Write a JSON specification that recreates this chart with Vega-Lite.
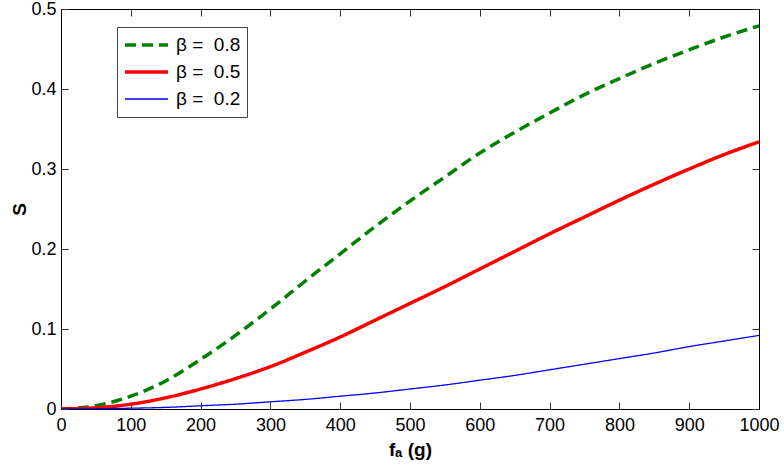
{
  "$schema": "https://vega.github.io/schema/vega-lite/v6.json",
  "autosize": "none",
  "width": 698,
  "height": 400,
  "padding": {"left": 61, "top": 9, "right": 25, "bottom": 58},
  "background": "white",
  "config": {
    "font": "Liberation Sans",
    "view": {"stroke": "black", "strokeWidth": 1},
    "axis": {
      "grid": false,
      "labelFlush": false,
      "domainColor": "black",
      "tickColor": "#333",
      "labelColor": "black",
      "labelFontSize": 18,
      "titleColor": "black",
      "titleFontSize": 19,
      "titleFontWeight": "bold"
    }
  },
  "data": {
    "values": [
      {"f": 0, "b": "β = \u00a00.8", "S": 0},
      {"f": 50, "b": "β = \u00a00.8", "S": 0.004},
      {"f": 100, "b": "β = \u00a00.8", "S": 0.016},
      {"f": 150, "b": "β = \u00a00.8", "S": 0.035},
      {"f": 200, "b": "β = \u00a00.8", "S": 0.062},
      {"f": 250, "b": "β = \u00a00.8", "S": 0.092},
      {"f": 300, "b": "β = \u00a00.8", "S": 0.125},
      {"f": 350, "b": "β = \u00a00.8", "S": 0.160},
      {"f": 400, "b": "β = \u00a00.8", "S": 0.194},
      {"f": 450, "b": "β = \u00a00.8", "S": 0.228},
      {"f": 500, "b": "β = \u00a00.8", "S": 0.260},
      {"f": 550, "b": "β = \u00a00.8", "S": 0.290},
      {"f": 600, "b": "β = \u00a00.8", "S": 0.320},
      {"f": 650, "b": "β = \u00a00.8", "S": 0.346},
      {"f": 700, "b": "β = \u00a00.8", "S": 0.370},
      {"f": 750, "b": "β = \u00a00.8", "S": 0.393},
      {"f": 800, "b": "β = \u00a00.8", "S": 0.413},
      {"f": 850, "b": "β = \u00a00.8", "S": 0.432},
      {"f": 900, "b": "β = \u00a00.8", "S": 0.449},
      {"f": 950, "b": "β = \u00a00.8", "S": 0.465},
      {"f": 1000, "b": "β = \u00a00.8", "S": 0.479},
      {"f": 0, "b": "β = \u00a00.5", "S": 0},
      {"f": 50, "b": "β = \u00a00.5", "S": 0.0015},
      {"f": 100, "b": "β = \u00a00.5", "S": 0.006},
      {"f": 150, "b": "β = \u00a00.5", "S": 0.014},
      {"f": 200, "b": "β = \u00a00.5", "S": 0.025},
      {"f": 250, "b": "β = \u00a00.5", "S": 0.038},
      {"f": 300, "b": "β = \u00a00.5", "S": 0.053},
      {"f": 350, "b": "β = \u00a00.5", "S": 0.071},
      {"f": 400, "b": "β = \u00a00.5", "S": 0.090},
      {"f": 450, "b": "β = \u00a00.5", "S": 0.111},
      {"f": 500, "b": "β = \u00a00.5", "S": 0.132},
      {"f": 550, "b": "β = \u00a00.5", "S": 0.153},
      {"f": 600, "b": "β = \u00a00.5", "S": 0.175},
      {"f": 650, "b": "β = \u00a00.5", "S": 0.197},
      {"f": 700, "b": "β = \u00a00.5", "S": 0.219},
      {"f": 750, "b": "β = \u00a00.5", "S": 0.240},
      {"f": 800, "b": "β = \u00a00.5", "S": 0.261},
      {"f": 850, "b": "β = \u00a00.5", "S": 0.281},
      {"f": 900, "b": "β = \u00a00.5", "S": 0.300},
      {"f": 950, "b": "β = \u00a00.5", "S": 0.318},
      {"f": 1000, "b": "β = \u00a00.5", "S": 0.334},
      {"f": 0, "b": "β = \u00a00.2", "S": 0},
      {"f": 50, "b": "β = \u00a00.2", "S": 0.0003},
      {"f": 100, "b": "β = \u00a00.2", "S": 0.001},
      {"f": 150, "b": "β = \u00a00.2", "S": 0.002},
      {"f": 200, "b": "β = \u00a00.2", "S": 0.004},
      {"f": 250, "b": "β = \u00a00.2", "S": 0.006},
      {"f": 300, "b": "β = \u00a00.2", "S": 0.009},
      {"f": 350, "b": "β = \u00a00.2", "S": 0.012},
      {"f": 400, "b": "β = \u00a00.2", "S": 0.016},
      {"f": 450, "b": "β = \u00a00.2", "S": 0.020},
      {"f": 500, "b": "β = \u00a00.2", "S": 0.025},
      {"f": 550, "b": "β = \u00a00.2", "S": 0.030},
      {"f": 600, "b": "β = \u00a00.2", "S": 0.036},
      {"f": 650, "b": "β = \u00a00.2", "S": 0.042},
      {"f": 700, "b": "β = \u00a00.2", "S": 0.049},
      {"f": 750, "b": "β = \u00a00.2", "S": 0.056},
      {"f": 800, "b": "β = \u00a00.2", "S": 0.063},
      {"f": 850, "b": "β = \u00a00.2", "S": 0.070},
      {"f": 900, "b": "β = \u00a00.2", "S": 0.078},
      {"f": 950, "b": "β = \u00a00.2", "S": 0.085},
      {"f": 1000, "b": "β = \u00a00.2", "S": 0.092}
    ]
  },
  "layer": [
    {
      "mark": {"type": "line", "interpolate": "monotone", "clip": true},
      "encoding": {
        "x": {
          "field": "f", "type": "quantitative",
          "scale": {"domain": [0, 1000], "nice": false},
          "axis": {"title": "fₐ (g)", "values": [0,100,200,300,400,500,600,700,800,900,1000], "format": "d", "tickSize": -7, "labelPadding": 14, "titlePadding": 6}
        },
        "y": {
          "field": "S", "type": "quantitative",
          "scale": {"domain": [0, 0.5], "nice": false},
          "axis": {"title": "S", "values": [0,0.1,0.2,0.3,0.4,0.5], "format": ".1~f", "tickSize": -7, "labelPadding": 12, "titlePadding": 1}
        },
        "color": {
          "field": "b", "type": "nominal",
          "scale": {"domain": ["β = \u00a00.8", "β = \u00a00.5", "β = \u00a00.2"], "range": ["#008000", "#ff0000", "#0000ff"]},
          "legend": {
            "title": null,
            "orient": "none",
            "legendX": 56,
            "legendY": 18,
            "strokeColor": "#444",
            "fillColor": "white",
            "padding": 6,
            "symbolType": "stroke",
            "symbolSize": 1849,
            "labelFontSize": 19,
            "labelColor": "black",
            "labelOffset": 6,
            "clipHeight": 24,
            "rowPadding": 3
          }
        },
        "strokeDash": {
          "field": "b", "type": "nominal",
          "scale": {"type": "ordinal", "domain": ["β = \u00a00.8", "β = \u00a00.5", "β = \u00a00.2"], "range": [[11, 6], [1, 0], [1, 0]]}
        },
        "strokeWidth": {
          "field": "b", "type": "nominal",
          "scale": {"type": "ordinal", "domain": ["β = \u00a00.8", "β = \u00a00.5", "β = \u00a00.2"], "range": [3.5, 3.5, 1.3]}
        }
      }
    },
    {
      "mark": {"type": "point", "opacity": 0},
      "encoding": {
        "x": {"field": "f", "type": "quantitative", "axis": {"orient": "top", "labels": false, "title": null, "values": [0,100,200,300,400,500,600,700,800,900,1000], "tickSize": -7}},
        "y": {"field": "S", "type": "quantitative", "axis": {"orient": "right", "labels": false, "title": null, "values": [0,0.1,0.2,0.3,0.4,0.5], "tickSize": -7}}
      }
    }
  ],
  "resolve": {"axis": {"x": "independent", "y": "independent"}}
}
